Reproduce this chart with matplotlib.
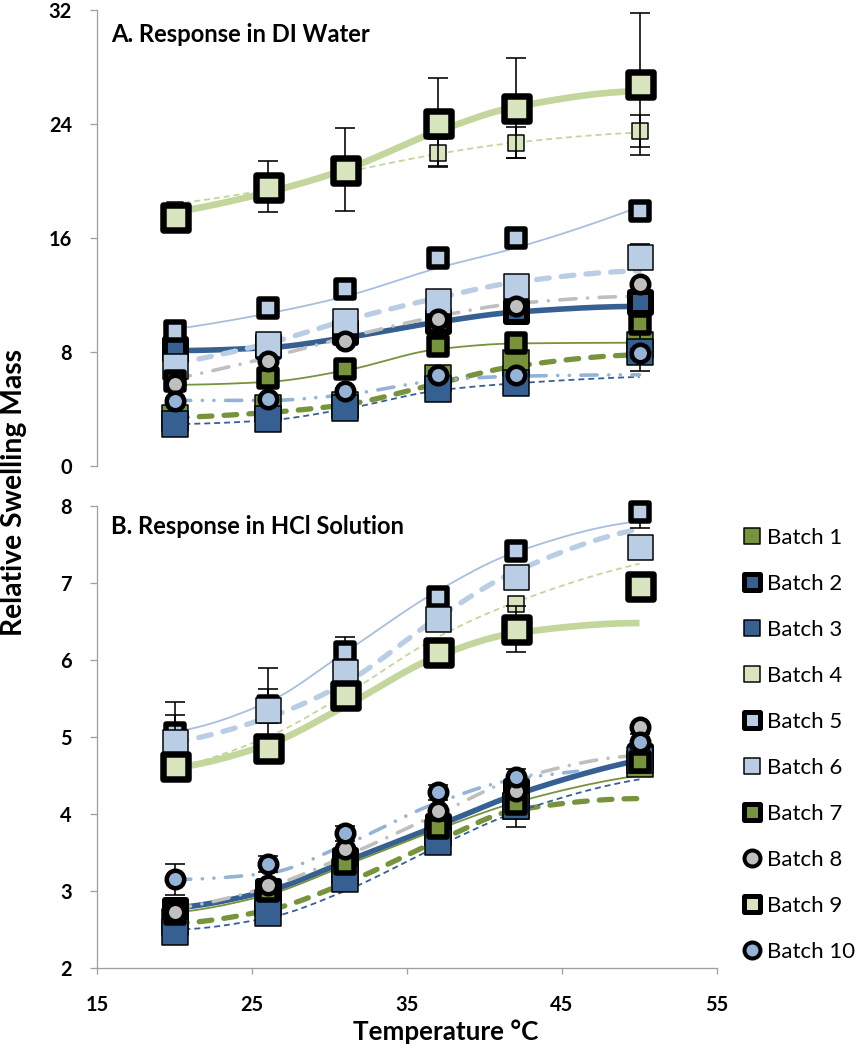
import numpy as np
import matplotlib
matplotlib.use('Agg')
import matplotlib.pyplot as plt
from matplotlib.markers import MarkerStyle
from matplotlib.lines import Line2D

plt.rcParams['font.family'] = ['Lato', 'DejaVu Sans']
plt.rcParams['font.weight'] = 'bold'

# ---------------- data ----------------
temps = [20, 26, 31, 37, 42, 50]
batches = ['Batch 1', 'Batch 2', 'Batch 3', 'Batch 4', 'Batch 5',
           'Batch 6', 'Batch 7', 'Batch 8', 'Batch 9', 'Batch 10']
water_yticks = [0, 8, 16, 24, 32]
hcl_yticks = [2, 3, 4, 5, 6, 7, 8]
x_ticks = [15, 25, 35, 45, 55]

# A. DI water: measured points
water_b1 = [3.4, 4.1, 4.3, 6.2, 7.2, 8.5]
water_b2 = [8.2, 8.4, 9.4, 10.2, 10.9, 11.5]
water_b3 = [2.95, 3.3, 4.1, 5.4, 5.8, 8.0]
water_b4 = [18.0, 19.3, 20.5, 22.0, 22.7, 23.5]
water_b5 = [9.5, 11.1, 12.4, 14.6, 16.0, 17.9]
water_b6 = [7.0, 8.55, 10.2, 11.6, 12.6, 14.7]
water_b7 = [6.0, 6.2, 6.8, 8.4, 8.6, 10.0]
water_b8 = [5.75, 7.4, 8.8, 10.3, 11.2, 12.8]
water_b9 = [17.5, 19.6, 20.8, 24.1, 25.1, 26.8]
water_b10 = [4.56, 4.7, 5.26, 6.4, 6.4, 7.9]
# A. trendline values read at the same temperatures
water_fit_b1 = [3.4, 3.75, 4.3, 5.8, 7.0, 7.8]
water_fit_b2 = [8.1, 8.3, 9.0, 10.1, 10.8, 11.2]
water_fit_b3 = [2.95, 3.2, 4.0, 5.3, 5.8, 6.25]
water_fit_b4 = [18.4, 19.4, 20.6, 21.9, 22.7, 23.4]
water_fit_b5 = [9.6, 10.7, 11.9, 13.9, 15.3, 18.2]
water_fit_b6 = [7.2, 8.6, 10.2, 11.8, 12.9, 13.7]
water_fit_b7 = [5.7, 5.9, 6.7, 8.2, 8.6, 8.65]
water_fit_b8 = [6.1, 7.6, 9.0, 10.5, 11.4, 11.9]
water_fit_b9 = [17.8, 19.2, 20.8, 23.5, 25.2, 26.3]
water_fit_b10 = [4.6, 4.6, 5.0, 6.0, 6.3, 6.4]
# A. error bars (None = not shown)
water_err_b3 = [0.3, 0.7, 0.3, 0.3, 0.3, 1.3]
water_err_b4 = [0.4, 0.5, 0.6, 0.95, 1.1, 1.1]
water_err_b5 = [0.2, 0.2, 0.2, 0.3, 0.5, 0.2]
water_err_b6 = [0.2, 0.2, 0.2, 0.3, 0.3, 0.9]
water_err_b9 = [0.9, 1.8, 2.9, 3.1, 3.5, 5.0]
water_err_b10 = [0.2, 0.2, 0.2, 0.3, 0.3, 0.3]

# B. HCl solution: measured points
hcl_b1 = [2.6, 2.85, 3.25, 3.75, 4.1, 4.65]
hcl_b2 = [2.75, 3.0, 3.4, 3.85, 4.3, 4.75]
hcl_b3 = [2.47, 2.71, 3.16, 3.63, 4.1, 4.7]
hcl_b4 = [4.6, 4.88, 5.55, 6.13, 6.73, 7.0]
hcl_b5 = [5.05, 5.4, 6.1, 6.82, 7.41, 7.92]
hcl_b6 = [4.93, 5.35, 5.85, 6.53, 7.08, 7.47]
hcl_b7 = [2.7, 3.0, 3.35, 3.82, 4.13, 4.67]
hcl_b8 = [2.73, 3.08, 3.54, 4.04, 4.3, 5.13]
hcl_b9 = [4.62, 4.86, 5.55, 6.11, 6.4, 6.96]
hcl_b10 = [3.15, 3.35, 3.75, 4.28, 4.48, 4.94]
# B. trendline values
hcl_fit_b1 = [2.58, 2.75, 3.1, 3.65, 4.05, 4.2]
hcl_fit_b2 = [2.78, 3.0, 3.38, 3.85, 4.25, 4.7]
hcl_fit_b3 = [2.5, 2.65, 3.0, 3.58, 4.02, 4.45]
hcl_fit_b4 = [4.6, 5.0, 5.55, 6.3, 6.75, 7.25]
hcl_fit_b5 = [5.07, 5.45, 6.1, 6.9, 7.4, 7.8]
hcl_fit_b6 = [4.93, 5.25, 5.7, 6.55, 7.15, 7.7]
hcl_fit_b7 = [2.72, 2.95, 3.33, 3.8, 4.15, 4.5]
hcl_fit_b8 = [2.77, 3.05, 3.45, 4.0, 4.45, 4.76]
hcl_fit_b9 = [4.6, 4.9, 5.4, 6.05, 6.35, 6.48]
hcl_fit_b10 = [3.15, 3.23, 3.6, 4.15, 4.45, 4.6]
# B. error bars
hcl_err_b1 = [0.1, 0.1, 0.1, 0.1, 0.27, 0.1]
hcl_err_b5 = [0.4, 0.22, 0.2, 0.1, 0.1, 0.2]
hcl_err_b6 = [0.36, 0.55, 0.1, 0.1, 0.1, 0.1]
hcl_err_b9 = [0.1, 0.1, 0.1, 0.1, 0.3, 0.1]
hcl_err_b10 = [0.2, 0.1, 0.1, 0.1, 0.1, 0.1]

# trendline end temperature per batch
water_fit_end = [50] * 10
hcl_fit_end = [50, 50, 50, 50, 50, 50, 50, 50, 50, 46]

water_vals = [water_b1, water_b2, water_b3, water_b4, water_b5,
              water_b6, water_b7, water_b8, water_b9, water_b10]
water_fits = [water_fit_b1, water_fit_b2, water_fit_b3, water_fit_b4, water_fit_b5,
              water_fit_b6, water_fit_b7, water_fit_b8, water_fit_b9, water_fit_b10]
water_errs = [None, None, water_err_b3, water_err_b4, water_err_b5,
              water_err_b6, None, None, water_err_b9, water_err_b10]
hcl_vals = [hcl_b1, hcl_b2, hcl_b3, hcl_b4, hcl_b5,
            hcl_b6, hcl_b7, hcl_b8, hcl_b9, hcl_b10]
hcl_fits = [hcl_fit_b1, hcl_fit_b2, hcl_fit_b3, hcl_fit_b4, hcl_fit_b5,
            hcl_fit_b6, hcl_fit_b7, hcl_fit_b8, hcl_fit_b9, hcl_fit_b10]
hcl_errs = [hcl_err_b1, None, None, None, hcl_err_b5,
            hcl_err_b6, None, None, hcl_err_b9, hcl_err_b10]

# ---------------- styles ----------------
OLIVE = '#77933C'
DKBLUE = '#376092'
LTGREEN = '#D7E4BD'
LTGREEN_LINE = '#C3D69B'
LTBLUE = '#B9CDE5'
MIDBLUE = '#95B3D7'
GREY = '#BFBFBF'

W, H, DPI = 857, 1050, 100
PX = 72.0 / DPI  # points per pixel

m_shape = ['s', 's', 's', 's', 's', 's', 's', 'o', 's', 'o']
m_face = [OLIVE, DKBLUE, DKBLUE, LTGREEN, LTBLUE, LTBLUE, OLIVE, GREY, LTGREEN, MIDBLUE]
m_size_px = [25.5, 21, 25.5, 16, 17.5, 25, 17.5, 17.5, 25, 17.5]
m_edge_px = [1.5, 6, 1.5, 1.5, 5.5, 1.5, 5.5, 4.5, 6.5, 4.5]
leg_size_px = [15.5, 16, 15.5, 15.5, 16, 15.5, 16, 16, 16, 16]
leg_edge_px = [1.5, 5, 1.5, 1.5, 5, 1.5, 5, 4, 5, 4]

l_color = [OLIVE, DKBLUE, DKBLUE, LTGREEN_LINE, '#A7BFDE', LTBLUE, OLIVE, GREY, LTGREEN_LINE, MIDBLUE]
l_width = [3.8, 4.0, 1.3, 1.3, 1.3, 3.8, 1.3, 2.6, 4.8, 2.6]
l_style = [(0, (2.4, 2.3)), '-', (0, (3.3, 2.2)), (0, (3.3, 2.2)), '-',
           (0, (2.4, 2.3)), '-', (0, (4.5, 3.2, 0.01, 3.2)), '-',
           (0, (4.5, 3.2, 0.01, 3.2, 0.01, 3.2))]
l_cap = ['round', 'butt', 'butt', 'butt', 'butt', 'round', 'butt', 'round', 'butt', 'round']

AXIS_GREY = '#A0A0A0'

fig = plt.figure(figsize=(W / DPI, H / DPI), dpi=DPI)
renderer = fig.canvas.get_renderer()


def rect(left, top, right, bottom):
    return [left / W, 1 - bottom / H, (right - left) / W, (bottom - top) / H]


def fit_size(s, target_px, weight='bold', base=20.0):
    t = fig.text(0, 0, s, fontsize=base, fontweight=weight)
    w = t.get_window_extent(renderer).width
    t.remove()
    return base * target_px / w


def marker_style(i):
    return MarkerStyle(m_shape[i], joinstyle='round')


def smooth_curve(x, y, xs):
    """Monotone (PCHIP) smooth curve through the trendline values."""
    x = np.asarray(x, float)
    y = np.asarray(y, float)
    h = np.diff(x)
    d = np.diff(y) / h
    n = len(x)
    m = np.zeros(n)
    for k in range(1, n - 1):
        if d[k - 1] * d[k] > 0:
            w1 = 2 * h[k] + h[k - 1]
            w2 = h[k] + 2 * h[k - 1]
            m[k] = (w1 + w2) / (w1 / d[k - 1] + w2 / d[k])

    def end_slope(h0, h1, d0, d1):
        s = ((2 * h0 + h1) * d0 - h0 * d1) / (h0 + h1)
        if np.sign(s) != np.sign(d0):
            s = 0.0
        elif np.sign(d0) != np.sign(d1) and abs(s) > abs(3 * d0):
            s = 3 * d0
        return s

    m[0] = end_slope(h[0], h[1], d[0], d[1])
    m[-1] = end_slope(h[-1], h[-2], d[-1], d[-2])
    idx = np.clip(np.searchsorted(x, xs) - 1, 0, n - 2)
    t = (xs - x[idx]) / h[idx]
    h00 = 2 * t**3 - 3 * t**2 + 1
    h10 = t**3 - 2 * t**2 + t
    h01 = -2 * t**3 + 3 * t**2
    h11 = t**3 - t**2
    return (h00 * y[idx] + h10 * h[idx] * m[idx]
            + h01 * y[idx + 1] + h11 * h[idx] * m[idx + 1])


def draw_panel(ax, vals, fits, errs, ends):
    for i in range(10):
        xs = np.linspace(temps[0], ends[i], 300)
        ax.plot(xs, smooth_curve(temps, fits[i], xs), color=l_color[i], lw=l_width[i],
                ls=l_style[i], dash_capstyle=l_cap[i], solid_capstyle='butt', zorder=2)
    for i in range(10):
        if errs[i] is not None:
            ax.errorbar(temps, vals[i], yerr=errs[i], fmt='none', ecolor='black',
                        elinewidth=1.6 * PX, capsize=10 * PX, capthick=1.6 * PX,
                        zorder=3 + i)
        ax.plot(temps, vals[i], ls='none', marker=marker_style(i),
                ms=m_size_px[i] * PX, mew=m_edge_px[i] * PX, mfc=m_face[i],
                mec='black', zorder=3.5 + i, clip_on=False)


tick_fs = fit_size('32', 23)

ax_top = fig.add_axes(rect(97, 10, 717, 466))
ax_bot = fig.add_axes(rect(97, 506, 717, 968))

draw_panel(ax_top, water_vals, water_fits, water_errs, water_fit_end)
draw_panel(ax_bot, hcl_vals, hcl_fits, hcl_errs, hcl_fit_end)

for ax in (ax_top, ax_bot):
    ax.set_xlim(15, 55)
    ax.set_facecolor('none')
    for sp in ('top', 'right'):
        ax.spines[sp].set_visible(False)
    for sp in ('left', 'bottom'):
        ax.spines[sp].set_color(AXIS_GREY)
        ax.spines[sp].set_linewidth(1.3 * PX)
    ax.tick_params(axis='y', direction='out', length=7 * PX, width=1.3 * PX,
                   color=AXIS_GREY, pad=18 * PX, labelsize=tick_fs)

ax_top.set_ylim(0, 32)
ax_top.set_yticks(water_yticks)
ax_top.spines['bottom'].set_visible(False)
ax_top.tick_params(axis='x', bottom=False, labelbottom=False)

ax_bot.set_ylim(2, 8)
ax_bot.set_yticks(hcl_yticks)
ax_bot.set_xticks(x_ticks)
ax_bot.tick_params(axis='x', direction='out', length=6 * PX, width=1.3 * PX,
                   color=AXIS_GREY, pad=21 * PX, labelsize=tick_fs)

# panel titles
title_fs = fit_size('A. Response in DI Water', 259)
fig.text(111 / W, 1 - 42 / H, 'A. Response in DI Water', fontsize=title_fs,
         fontweight='bold', ha='left', va='baseline')
fig.text(111 / W, 1 - 534 / H, 'B. Response in HCl Solution', fontsize=title_fs,
         fontweight='bold', ha='left', va='baseline')

# axis labels
xlab_fs = fit_size('Temperature °C', 185)
fig.text(446 / W, 1 - 1040 / H, 'Temperature °C', fontsize=xlab_fs,
         fontweight='bold', ha='center', va='baseline')
ylab_fs = fit_size('Relative Swelling Mass', 287)
fig.text(14 / W, 1 - 493 / H, 'Relative Swelling Mass', fontsize=ylab_fs,
         fontweight='bold', rotation=90, ha='center', va='center')

# legend
leg_fs = fit_size('Batch 10', 88, weight='normal')
tmp = fig.text(0, 0, 'Batch 10', fontsize=leg_fs, fontweight='normal')
text_h = tmp.get_window_extent(renderer).height
tmp.remove()
fs_px = leg_fs / PX
handles = [Line2D([], [], ls='none', marker=marker_style(i),
                  ms=leg_size_px[i] * PX, mew=leg_edge_px[i] * PX,
                  mfc=m_face[i], mec='black') for i in range(10)]
hl = 0.8
leg = fig.legend(handles, batches, loc='upper left',
                 bbox_to_anchor=((752 - hl * fs_px / 2) / W, 1 - (538 - text_h / 2) / H),
                 frameon=False, borderpad=0, borderaxespad=0,
                 handlelength=hl, handletextpad=(15 - hl * fs_px / 2) / fs_px,
                 labelspacing=(46 - text_h) / fs_px, numpoints=1,
                 prop={'size': leg_fs, 'weight': 'normal'})

fig.savefig('out.png', dpi=DPI)
